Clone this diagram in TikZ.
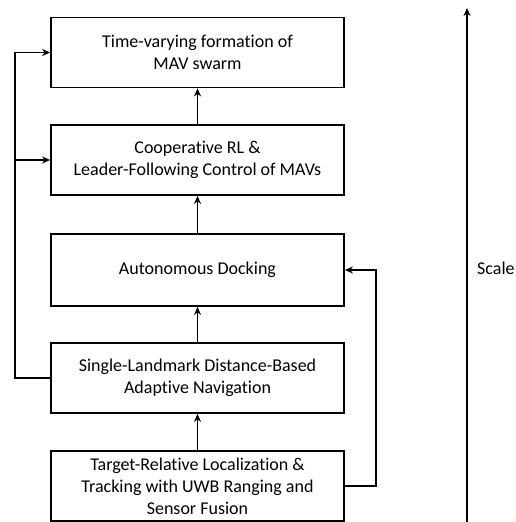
\documentclass[tikz,border=0pt]{standalone}
\usepackage{fontspec}
\setmainfont{Carlito}[Ligatures={NoCommon}]
\usetikzlibrary{arrows.meta}
\begin{document}
\begin{tikzpicture}[x=1pt,y=-1pt,
  blk/.style={draw,line width=1.8pt,minimum width=293pt,minimum height=70pt,align=center,inner sep=0pt,font=\fontsize{18}{22}\selectfont},
  conn/.style={line width=1.8pt,-{Stealth[length=8pt,width=7pt]}},
  lbl/.style={font=\fontsize{18}{22}\selectfont,inner sep=0pt}]
\useasboundingbox (0,0) rectangle (515,522);
\node[blk] (b1) at (197.5,52.5) {Time-varying formation of\\MAV swarm};
\node[blk] (b2) at (197.5,160) {Cooperative RL \&\\Leader-Following Control of MAVs};
\node[blk,minimum height=72pt] (b3) at (197.5,270) {Autonomous Docking};
\node[blk] (b4) at (197.5,378) {Single-Landmark Distance-Based\\Adaptive Navigation};
\node[blk] (b5) at (197.5,486) {Target-Relative Localization \&\\Tracking with UWB Ranging and\\Sensor Fusion};
\draw[conn] (b2) -- (b1);
\draw[conn] (b3) -- (b2);
\draw[conn] (b4) -- (b3);
\draw[conn] (b5) -- (b4);
\coordinate (lx) at (15,0);
\coordinate (rx) at (376,0);
\draw[conn] (b4.west) -| (lx |- b1.west) -- (b1.west);
\draw[conn] (lx |- b2.west) -- (b2.west);
\draw[conn] (b5.east) -| (rx |- b3.east) -- (b3.east);
\coordinate (sb) at (467,522);
\coordinate (st) at (467,8);
\draw[conn] (sb) -- (st);
\node[lbl,anchor=west] (scale) at (477,268) {Scale};
\end{tikzpicture}
\end{document}
